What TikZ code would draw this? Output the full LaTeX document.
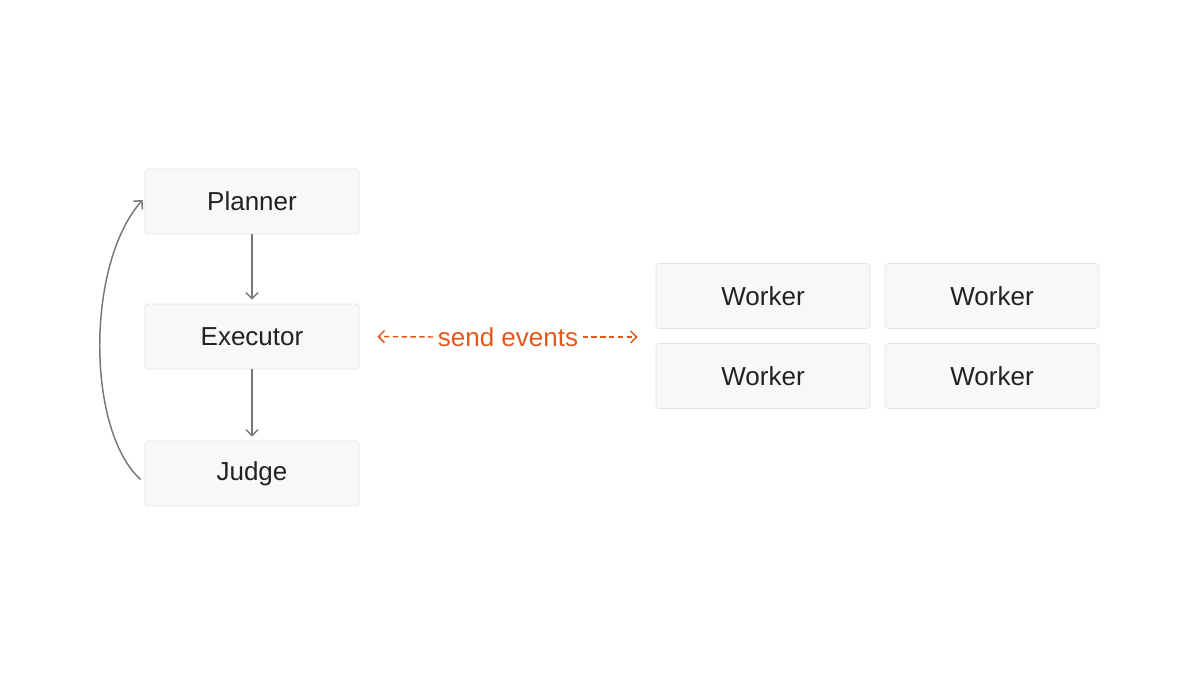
\documentclass[tikz,border=0pt]{standalone}
\usepackage{fontspec}
\setmainfont{Liberation Sans}
\usetikzlibrary{arrows.meta}

\definecolor{boxfill}{HTML}{F8F8F8}
\definecolor{boxline}{HTML}{E4E4E4}
\definecolor{arrowgray}{HTML}{777777}
\definecolor{eventorange}{HTML}{E2581C}
\definecolor{textdark}{HTML}{222222}

\tikzset{every picture/.style={line width=0.75pt}}
\tikzset{
  stage/.style={draw=boxline, fill=boxfill, rounded corners=2.5pt, line width=0.6pt,
    minimum width=160.5pt, minimum height=48.75pt, inner sep=0pt,
    text=textdark, font=\fontsize{19.5}{24}\selectfont},
  flow/.style={draw=arrowgray, line width=1.1pt, -{Straight Barb[length=4.5pt,width=9pt]}},
  eventline/.style={draw=eventorange, line width=1.1pt, dash pattern={on 4pt off 2.6pt},
    -{Straight Barb[length=4.5pt,width=9pt]}, shorten >=13.5pt},
}

\begin{document}
\begin{tikzpicture}[x=0.75pt,y=0.75pt,yscale=-1]
\useasboundingbox (0,0) rectangle (1200,675);

% Loop stages
\node [stage] (planner) at (252,201.5) {Planner};
\node [stage] (executor) at (252,336.5) {Executor};
\node [stage] (judge) at (252,473.5) {Judge};

% Worker pool
\node [stage] (worker11) at (763,296) {Worker};
\node [stage] (worker12) at (992,296) {Worker};
\node [stage] (worker21) at (763,376) {Worker};
\node [stage] (worker22) at (992,376) {Worker};

% Straight Lines
\draw [flow, shorten >=3pt] (planner.south) -- (executor.north);
\draw [flow, shorten >=3pt] (executor.south) -- (judge.north);

% Curve Lines
\draw [flow] ([shift={(-4,6)}]judge.west) .. controls (86,430) and (86,263) .. ([shift={(-2,-1.5)}]planner.west);

% Text Node
\node [text=eventorange, inner sep=3pt, font=\fontsize{19.5}{24}\selectfont] (events) at (508,337) {send events};
\draw [eventline] (events.west) -- (executor.east);
\draw [eventline] (events.east) -- (events.east -| worker11.west);

\end{tikzpicture}
\end{document}
